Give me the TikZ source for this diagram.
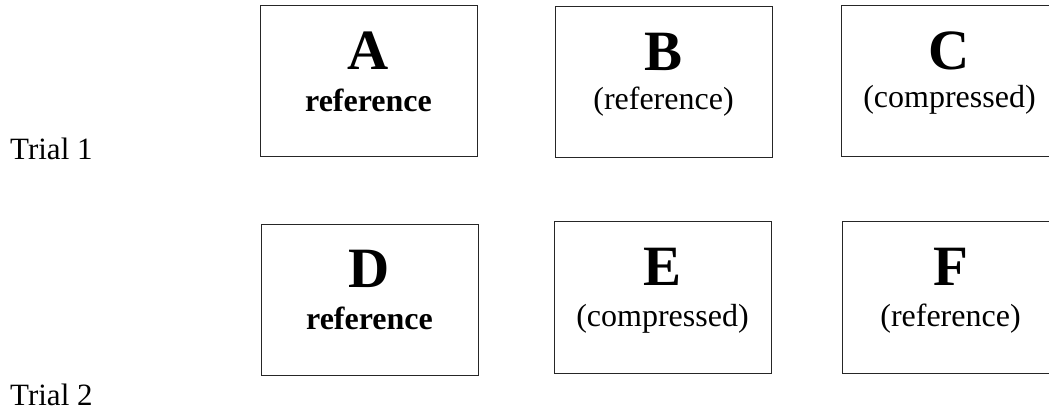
\documentclass[tikz,border=0pt]{standalone}
\usepackage{fontspec}
\setmainfont{Liberation Serif}
\usetikzlibrary{positioning}

\tikzset{
    trialbox/.style={draw=black!85, line width=1pt, minimum width=217pt, minimum height=151pt, inner sep=0pt},
    letter/.style={font=\fontsize{57}{60}\selectfont\bfseries, anchor=base, inner sep=0pt},
    tag/.style={font=\fontsize{32}{36}\selectfont, anchor=base, inner sep=0pt},
    boldtag/.style={tag, font=\fontsize{32}{36}\selectfont\bfseries},
    trial/.style={font=\fontsize{31}{34}\selectfont, anchor=base west, inner sep=0pt}
}

\begin{document}
\begin{tikzpicture}[x=1pt, y=-1pt]
    \useasboundingbox (0,0) rectangle (1049,411);
    \clip (0,0) rectangle (1049,411);

    % Trial labels
    \node[trial] (trialone) at (10,160) {Trial 1};
    \node[trial] (trialtwo) at (10,405) {Trial 2};

    % Boxes of trial 1
    \node[trialbox] (boxA) at (368.5,81.5) {};
    \node[trialbox] (boxB) at (663.5,82.5) {};
    \node[trialbox] (boxC) at (949.5,81.5) {};

    % Boxes of trial 2
    \node[trialbox] (boxD) at (369.5,300) {};
    \node[trialbox] (boxE) at (662.5,297.5) {};
    \node[trialbox] (boxF) at (950.5,297.5) {};

    % Letters
    \foreach \b in {A, B, C, D, E, F}
        \node[letter] (let\b) at ([yshift=-64pt]box\b.north) {\b};

    % Captions
    \node[boldtag] (tagA) at ([yshift=-106pt]boxA.north) {reference};
    \node[tag] (tagB) at ([yshift=-103pt]boxB.north) {(reference)};
    \node[tag] (tagC) at ([yshift=-102pt]boxC.north) {(compressed)};
    \node[boldtag] (tagD) at ([yshift=-106pt]boxD.north) {reference};
    \node[tag] (tagE) at ([yshift=-105pt]boxE.north) {(compressed)};
    \node[tag] (tagF) at ([yshift=-105pt]boxF.north) {(reference)};
\end{tikzpicture}
\end{document}
